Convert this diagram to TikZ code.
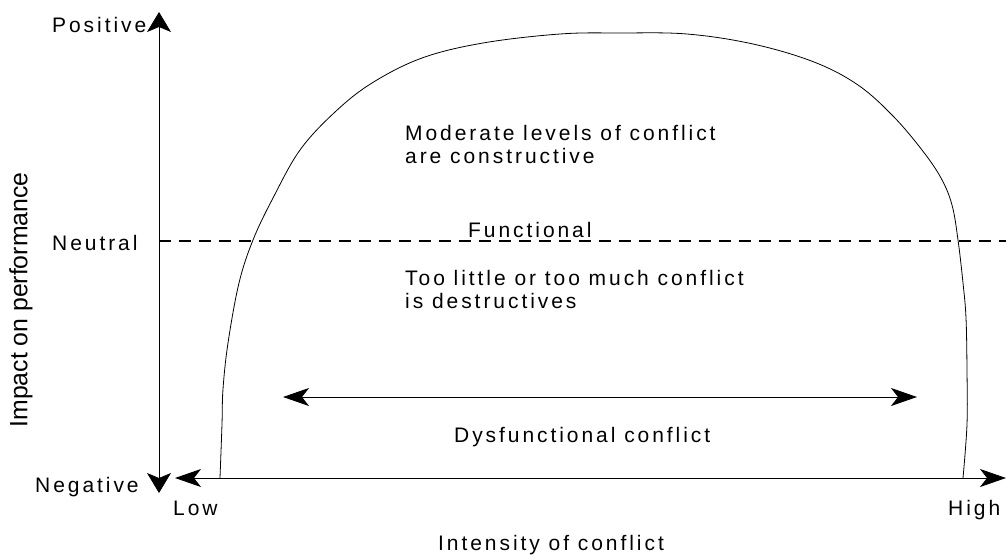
\documentclass[tikz,border=0pt]{standalone}
\usepackage{fontspec}
\setmainfont{Liberation Sans}[LetterSpace=14]
\newfontfamily\axisfont{Liberation Sans}
\usetikzlibrary{arrows.meta}
\tikzset{
  vhead/.tip={Stealth[length=20pt,width=24pt,inset=5pt]},
  hhead/.tip={Stealth[length=26pt,width=18pt,inset=7pt]},
}
\begin{document}
\begin{tikzpicture}[x=1pt,y=-1pt,
  lbl/.style={inner sep=0pt, anchor=base west, align=left,
              font=\fontsize{21}{22.5}\selectfont},
  axisline/.style={line width=0.9pt},
  curve/.style={line width=0.8pt},
  neutralline/.style={line width=1.5pt, dash pattern=on 12pt off 8pt},
]
\useasboundingbox (0,0) rectangle (1006,555);

% axis end points
\coordinate (vtop)   at (159,12);
\coordinate (vbot)   at (159,493);
\coordinate (hleft)  at (175,478);
\coordinate (hright) at (1006,478);
\coordinate (nleft)  at (159,241);
\coordinate (nright) at (1006,241);
\coordinate (dleft)  at (283,397);
\coordinate (dright) at (917,397);

% axes
\draw[axisline, vhead-vhead] (vbot) -- (vtop);
\draw[axisline, hhead-hhead] (hleft) -- (hright);

% neutral level
\draw[neutralline] (nleft) -- (nright);

% performance curve
\draw[curve] plot[smooth, tension=0.6] coordinates {
  (220,478) (222,424) (223,389) (228,343) (239,283) (253,240) (273,198)
  (300,150) (335,112) (372,83) (422,58) (483,43) (560,34) (620,33) (687,34)
  (753,44) (814,62) (858,85) (893,116) (922,150) (941,178) (952,205)
  (958,240) (963,283) (966,318) (967,371) (967,424) (963,478)};

% dysfunctional range
\draw[axisline, hhead-hhead] (dleft) -- (dright);

% axis labels
\node[lbl] (positive) at (52,32)  {Positive};
\node[lbl] (neutral)  at (52,250) {Neutral};
\node[lbl] (negative) at (35,492) {Negative};
\node[lbl] (low)      at (173,515) {Low};
\node[lbl] (high)     at (948,515) {High};
\node[lbl] (xtitle)   at (438,550) {Intensity of conflict};
\node[inner sep=0pt, rotate=90] (ytitle) at (21,300)
  {\resizebox{255pt}{\height}{\axisfont\fontsize{25}{25}\selectfont Impact on performance}};

% region labels (anchored at the baseline of the last line)
\node[lbl] (moderate)   at (405,163) {Moderate levels of conflict\\are constructive};
\node[lbl] (functional) at (468,237) {Functional};
\node[lbl] (toolittle)  at (405,308) {Too little or too much conflict\\is destructives};
\node[lbl] (dysfunc)    at (454,442) {Dysfunctional conflict};
\end{tikzpicture}
\end{document}
